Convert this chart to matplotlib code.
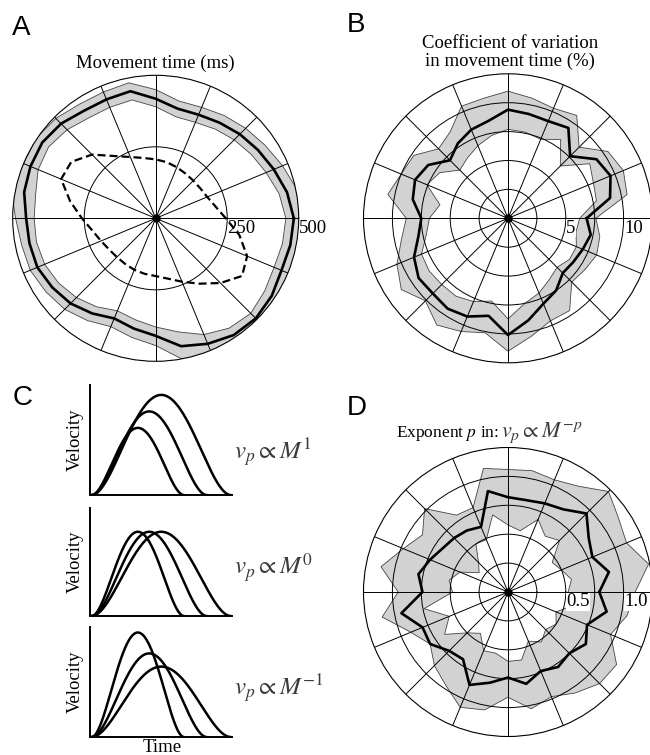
import numpy as np
import matplotlib
matplotlib.use('Agg')
import matplotlib.pyplot as plt
from matplotlib.path import Path
from matplotlib.patches import PathPatch

plt.rcParams['font.family'] = ['Liberation Serif', 'DejaVu Serif']
plt.rcParams['mathtext.fontset'] = 'stix'

## 32 movement directions (deg)
DIRS = np.arange(0, 360, 11.25)

# A: movement time (ms) - mean, band, and dashed reference
mt_mean = [483, 468, 447, 430, 416, 402, 392, 391, 418, 453, 450, 452, 468, 477, 474, 469,
           453, 450, 448, 435, 421, 400, 379, 393, 411, 456, 475, 491, 495, 488, 476, 480]
mt_hi = [522, 505, 480, 460, 445, 432, 420, 418, 450, 483, 478, 480, 494, 503, 500, 515,
         490, 478, 475, 462, 450, 430, 410, 425, 445, 505, 525, 535, 540, 535, 528, 530]
mt_lo = [455, 440, 418, 402, 388, 375, 363, 362, 390, 422, 420, 422, 438, 450, 445, 428,
         425, 425, 420, 408, 392, 372, 350, 362, 380, 405, 440, 462, 470, 458, 448, 452]
mt_dash = [245, 213, 195, 188, 186, 188, 193, 200, 206, 215, 232, 262, 315, 355, 358, 305,
           258, 225, 207, 196, 192, 192, 195, 198, 202, 215, 240, 275, 320, 363, 346, 298]

# B: coefficient of variation (%)
cv_mean = [6.8, 9.0, 9.6, 9.2, 7.6, 9.4, 9.1, 9.2, 9.4, 8.6, 8.3, 7.8, 7.1, 8.3, 8.7, 8.4,
           7.5, 7.9, 8.8, 9.3, 9.2, 9.4, 9.2, 8.6, 10.1, 9.0, 8.0, 7.5, 6.7, 6.8, 7.0, 7.3]
cv_hi = [7.6, 10.5, 10.8, 10.4, 8.7, 10.7, 10.3, 10.6, 11.0, 10.6, 10.5, 9.0, 8.5, 9.8, 10.0, 10.6,
         8.8, 9.4, 10.4, 11.1, 10.1, 11.1, 10.6, 10.1, 11.5, 10.4, 9.6, 9.6, 7.8, 8.0, 8.3, 8.1]
cv_lo = [6.2, 7.8, 8.0, 8.5, 6.4, 8.2, 7.4, 7.6, 7.7, 7.3, 6.8, 6.3, 5.9, 7.1, 7.6, 6.0,
         6.8, 7.2, 8.1, 8.2, 8.1, 8.1, 7.8, 7.3, 8.7, 7.5, 7.0, 6.4, 6.0, 6.4, 6.4, 6.0]

# D: exponent p
p_mean = [0.79, 0.89, 0.79, 0.84, 0.96, 0.86, 0.83, 0.81, 0.82, 0.89, 0.61, 0.64, 0.66, 0.68, 0.73, 0.79,
          0.74, 0.94, 0.80, 0.81, 0.72, 0.70, 0.87, 0.80, 0.74, 0.81, 0.74, 0.78, 0.75, 0.81, 0.74, 0.87]
p_hi = [1.10, 1.24, 1.11, 1.15, 1.23, 1.10, 1.05, 1.07, 1.06, 1.09, 0.79, 0.80, 1.02, 0.89, 0.98, 1.12,
        0.95, 1.11, 0.91, 0.81, 0.90, 0.97, 1.08, 1.04, 0.91, 1.03, 0.98, 1.05, 1.12, 1.13, 0.96, 1.05]
p_lo = [0.52, 0.56, 0.50, 0.46, 0.63, 0.58, 0.68, 0.54, 0.58, 0.68, 0.49, 0.50, 0.36, 0.30, 0.45, 0.52,
        0.48, 0.74, 0.55, 0.66, 0.50, 0.43, 0.55, 0.54, 0.60, 0.60, 0.46, 0.52, 0.46, 0.50, 0.45, 0.58]

# C: schematic velocity profiles (duration, peak velocity)
durations = [0.65, 0.81, 0.98]
peaks_pos = [0.61, 0.76, 0.91]
peaks_zero = [0.78, 0.78, 0.78]
peaks_neg = [0.95, 0.76, 0.64]
law_labels = [r'$v_p \propto M^{1}$', r'$v_p \propto M^{0}$', r'$v_p \propto M^{-1}$']

W, H = 650, 755
fig = plt.figure(figsize=(W / 100, H / 100), dpi=100)


def rect_px(x0, y0, x1, y1):
	# pixel box (top-left origin) -> figure fraction rect
	return [x0 / W, 1 - y1 / H, (x1 - x0) / W, (y1 - y0) / H]


def closed(vals):
	th = np.deg2rad(DIRS)
	return np.append(th, th[0]), np.append(vals, vals[0])


def setup_polar(cx, cy, rad, rmax, rings):
	ax = fig.add_axes(rect_px(cx - rad, cy - rad, cx + rad, cy + rad), projection='polar')
	ax.set_ylim(0, rmax)
	ax.set_xticks(np.deg2rad(np.arange(0, 360, 22.5)))
	ax.set_xticklabels([])
	ax.set_yticks(rings)
	ax.set_yticklabels([])
	ax.set_axisbelow(False)
	ax.grid(True, color='black', lw=0.7)
	ax.spines['polar'].set_linewidth(0.8)
	ax.plot(0, 0, 'o', color='black', ms=5, zorder=6)
	return ax


def band(ax, lo, hi):
	th, h = closed(hi)
	_, l = closed(lo)
	n = len(th)
	verts = np.concatenate([np.column_stack([th, h]), np.column_stack([th[::-1], l[::-1]])])
	codes = ([Path.MOVETO] + [Path.LINETO] * (n - 2) + [Path.CLOSEPOLY]) * 2
	ax.add_patch(PathPatch(Path(verts, codes), fc='#d2d2d2', ec='#444444', lw=0.6, zorder=1))


def mean_line(ax, vals, **kw):
	th, r = closed(vals)
	ax.plot(th, r, color='black', lw=1.9, zorder=4, **kw)


def rlabel(ax, r, s, box=False):
	kw = dict(bbox=dict(fc='white', ec='none', pad=0.3)) if box else {}
	ax.annotate(s, xy=(0, r), xytext=(0.3, -1.0), textcoords='offset points',
		ha='left', va='top', fontsize=13.5, zorder=7, **kw)


# ---- A
axA = setup_polar(155.7, 218.3, 143, 500, [250])
band(axA, mt_lo, mt_hi)
mean_line(axA, mt_mean)
th, r = closed(mt_dash)
axA.plot(th, r, color='black', lw=1.6, ls=(0, (3.6, 1.8)), zorder=4)
rlabel(axA, 250, '250')
rlabel(axA, 500, '500')

# ---- B
axB = setup_polar(508, 218.3, 144.5, 12.5, [2.5, 5, 7.5, 10])
band(axB, cv_lo, cv_hi)
mean_line(axB, cv_mean)
rlabel(axB, 5, '5', box=True)
rlabel(axB, 10, '10', box=True)

# ---- D
axD = setup_polar(508, 592, 144.5, 1.25, [0.25, 0.5, 0.75, 1.0])
band(axD, p_lo, p_hi)
mean_line(axD, p_mean)
rlabel(axD, 0.5, '0.5', box=True)
rlabel(axD, 1.0, '1.0', box=True)

# ---- C
c_boxes = [(385, 495), (508, 616), (627, 737)]
c_peaks = [peaks_pos, peaks_zero, peaks_neg]
label_y = [452, 568, 688]
for (y0, y1), peaks, lab, ly in zip(c_boxes, c_peaks, law_labels, label_y):
	ax = fig.add_axes(rect_px(90, y0, 232, y1))
	for d, pk in zip(durations, peaks):
		t = np.linspace(0, d, 200)
		tau = t / d
		# minimum-jerk shaped profile
		ax.plot(0.012 + t, pk * 16 * tau**2 * (1 - tau)**2, color='black', lw=1.8, solid_capstyle='round')
	ax.set_xlim(0, 1)
	ax.set_ylim(0, 1)
	for s in ['top', 'right']:
		ax.spines[s].set_visible(False)
	for s in ['left', 'bottom']:
		ax.spines[s].set_linewidth(1.4)
	ax.set_xticks([])
	ax.set_yticks([])
	ax.patch.set_alpha(0)
	ax.text(-0.105, 0.5, 'Velocity', transform=ax.transAxes, rotation=90,
		ha='center', va='center', fontsize=13.5)
	fig.text(234 / W, 1 - ly / H, lab, ha='left', va='center', fontsize=18, color='#3c3c3c')

fig.text(162 / W, 1 - 748 / H, 'Time', ha='center', va='center', fontsize=13.5)

# ---- titles
fig.text(155 / W, 1 - 68 / H, 'Movement time (ms)', ha='center', va='baseline', fontsize=13.5)
fig.text(510 / W, 1 - 48 / H, 'Coefficient of variation', ha='center', va='baseline', fontsize=13.5)
fig.text(510 / W, 1 - 66 / H, 'in movement time (%)', ha='center', va='baseline', fontsize=13.5)
fig.text(499 / W, 1 - 437 / H, r'Exponent $p$ in:', ha='right', va='baseline', fontsize=12.5)
fig.text(501 / W, 1 - 437 / H, r'$v_p \propto M^{-p}$', ha='left', va='baseline', fontsize=16, color='#3c3c3c')

# ---- panel letters
for letter, x, y in [('A', 12, 15), ('B', 347, 12), ('C', 13, 385), ('D', 347, 395)]:
	fig.text(x / W, 1 - y / H, letter, ha='left', va='top', fontsize=20, family='Liberation Sans')

fig.savefig('out.png', dpi=100)
